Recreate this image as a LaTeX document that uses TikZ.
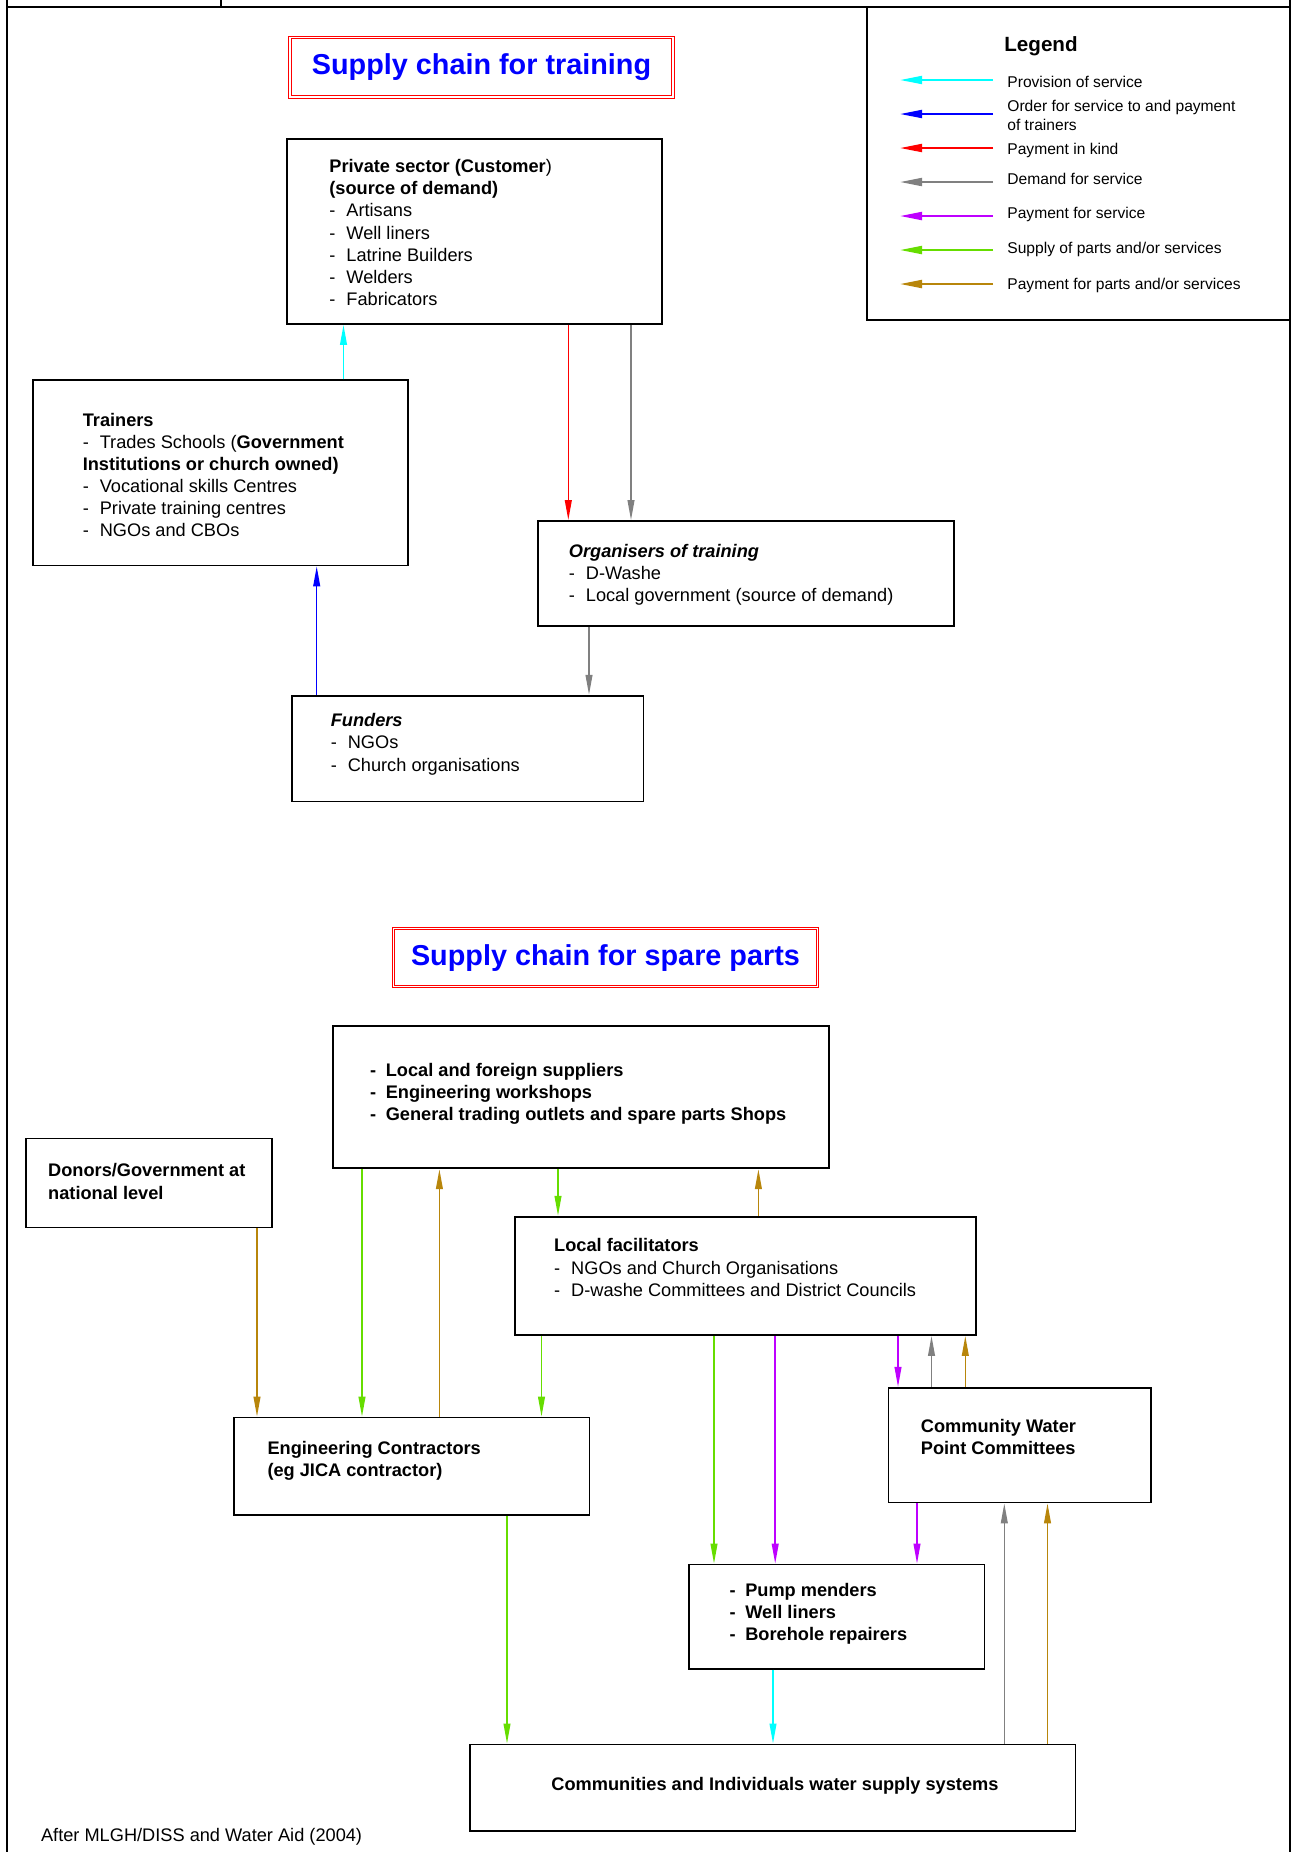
\documentclass[tikz,border=0pt]{standalone}
\usepackage{fontspec}
\setmainfont{Liberation Sans}
\usetikzlibrary{arrows.meta,fit}

\definecolor{provcyan}{RGB}{0,255,255}
\definecolor{orderblue}{RGB}{0,0,255}
\definecolor{kindred}{RGB}{255,0,0}
\definecolor{demandgray}{RGB}{128,128,128}
\definecolor{paypurple}{RGB}{190,0,255}
\definecolor{partsgreen}{RGB}{102,221,0}
\definecolor{partsgold}{RGB}{184,134,11}
\definecolor{titleblue}{RGB}{0,0,255}

% list bullets used inside the boxes
\newcommand{\dashitem}{\makebox[8.5pt][l]{-}}
\newcommand{\bdashitem}{\makebox[7.8pt][l]{\textbf{-}}}

\begin{document}
\begin{tikzpicture}[x=0.5pt,y=-0.5pt,
  box/.style={draw=black, line width=0.9pt, inner sep=0pt},
  titlebox/.style={draw=red, double=white, double distance=0.6pt, line width=0.6pt, inner sep=0pt},
  titletext/.style={inner sep=0pt, text=titleblue, font=\fontsize{14.4}{17}\selectfont\bfseries},
  body/.style={anchor=north west, inner sep=0pt, align=left, font=\fontsize{9.1}{11.05}\selectfont},
  line1/.style={anchor=base west, inner sep=0pt, font=\fontsize{9.1}{11.05}\selectfont},
  legtext/.style={anchor=base west, inner sep=0pt, font=\fontsize{7.8}{9.5}\selectfont},
  flow/.style={line width=0.75pt, -{Triangle[length=10pt,width=3.4pt]}},
  legflow/.style={line width=1pt, -{Triangle[length=11pt,width=4pt]}},
  frameline/.style={line width=1.1pt, draw=black},
]
\useasboundingbox (0,0) rectangle (1296,1852);

% page frame
\draw[frameline] (7,0) -- (7,1852);
\draw[frameline] (1290,0) -- (1290,1852);
\draw[frameline] (7,7) -- (1290,7);
\draw[frameline] (221,0) -- (221,7);

% ---------- legend ----------
\node[box, line width=1.1pt, fit={(867,7) (1290,320)}] (legend) {};
\node[anchor=base west, inner sep=0pt, font=\fontsize{10.3}{12}\selectfont\bfseries] (legtitle) at (1004,51.6) {Legend};
\draw[legflow, provcyan]   (993,80)  -- (900,80);
\draw[legflow, orderblue]  (993,114) -- (900,114);
\draw[legflow, kindred]    (993,148) -- (900,148);
\draw[legflow, demandgray] (993,182) -- (900,182);
\draw[legflow, paypurple]  (993,216) -- (900,216);
\draw[legflow, partsgreen] (993,250) -- (900,250);
\draw[legflow, partsgold]  (993,284) -- (900,284);
\node[legtext] (lg1) at (1007,87.3) {Provision of service};
\node[anchor=north west, inner sep=0pt, align=left, font=\fontsize{7.8}{9.5}\selectfont] (lg2) at (1007,99.3) {Order for service to and payment\\of trainers};
\node[legtext] (lg3) at (1007,154.8) {Payment in kind};
\node[legtext] (lg4) at (1007,184.9) {Demand for service};
\node[legtext] (lg5) at (1007,218.6) {Payment for service};
\node[legtext] (lg6) at (1007,253.6) {Supply of parts and/or services};
\node[legtext] (lg7) at (1007,289.6) {Payment for parts and/or services};

% ---------- supply chain for training ----------
\node[titlebox, fit={(290,37.5) (673,97)}] (title1) {};
\node[titletext] (title1text) at (title1.center) {Supply chain for training};

\node[box, fit={(287.3,139) (661.7,324)}] (private) {};
\node[body] (privatetext) at (329,159.2) {\textbf{Private sector (Customer})\\\textbf{(source of demand)}\\\dashitem Artisans\\\dashitem Well liners\\\dashitem Latrine Builders\\\dashitem Welders\\\dashitem Fabricators};

\node[box, fit={(33.3,380.2) (408,565.5)}] (trainers) {};
\node[body] (trainerstext) at (82.4,412.6) {\textbf{Trainers}\\\dashitem Trades Schools (\textbf{Government}\\\textbf{Institutions or church owned)}\\\dashitem Vocational skills Centres\\\dashitem Private training centres\\\dashitem NGOs and CBOs};

\node[box, fit={(538,521) (954,626)}] (organisers) {};
\node[body] (organiserstext) at (568.5,543.6) {\textbf{\textit{Organisers of training}}\\\dashitem D-Washe\\\dashitem Local government (source of demand)};

\node[box, fit={(291.7,695.7) (643.5,801.5)}] (funders) {};
\node[body] (funderstext) at (330.4,713.3) {\textbf{\textit{Funders}}\\\dashitem NGOs\\\dashitem Church organisations};

\draw[flow, provcyan]   (trainers.north -| 343.5,0)  -- (private.south -| 343.5,0);
\draw[flow, kindred]    (private.south -| 568.3,0)   -- (organisers.north -| 568.3,0);
\draw[flow, demandgray] (private.south -| 631,0)     -- (organisers.north -| 631,0);
\draw[flow, demandgray] (organisers.south -| 589,0)  -- (funders.north -| 589,0);
\draw[flow, orderblue]  (funders.north -| 316.7,0)   -- (trainers.south -| 316.7,0);

% ---------- supply chain for spare parts ----------
\node[titlebox, fit={(393.4,928.6) (817.5,986.5)}] (title2) {};
\node[titletext] (title2text) at (title2.center) {Supply chain for spare parts};

\node[box, fit={(333,1026) (828.7,1168.3)}] (suppliers) {};
\node[body, font=\fontsize{9.1}{11.05}\selectfont\bfseries] (supplierstext) at (369.8,1063) {\bdashitem Local and foreign suppliers\\\bdashitem Engineering workshops\\\bdashitem General trading outlets and spare parts Shops};

\node[box, fit={(26,1138.5) (271.7,1227.4)}] (donors) {};
\node[body, font=\fontsize{9.1}{11.05}\selectfont\bfseries] (donorstext) at (47.8,1163.3) {Donors/Government at\\national level};

\node[box, fit={(514.8,1216.7) (976,1335)}] (localfac) {};
\node[body] (localfactext) at (553.8,1238.3) {\textbf{Local facilitators}\\\dashitem NGOs and Church Organisations\\\dashitem D-washe Committees and District Councils};

\node[box, fit={(234.3,1417.5) (589.4,1515)}] (eng) {};
\node[body, font=\fontsize{9.1}{11.05}\selectfont\bfseries] (engtext) at (267.1,1440.8) {Engineering Contractors\\(eg JICA contractor)};

\node[box, fit={(888.4,1387.8) (1151.2,1502.5)}] (cwp) {};
\node[body, font=\fontsize{9.1}{11.05}\selectfont\bfseries] (cwptext) at (920.5,1418.8) {Community Water\\Point Committees};

\node[box, fit={(689,1564.5) (984.5,1668.8)}] (pump) {};
\node[body, font=\fontsize{9.1}{11.05}\selectfont\bfseries] (pumptext) at (729.3,1582.7) {\bdashitem Pump menders\\\bdashitem Well liners\\\bdashitem Borehole repairers};

\node[box, fit={(470,1744.4) (1075.5,1831)}] (communities) {};
\node[line1, font=\fontsize{9.1}{11.05}\selectfont\bfseries] (communitiestext) at (551,1790) {Communities and Individuals water supply systems};

\draw[flow, partsgold]  (donors.south -| 257,0)       -- (eng.north -| 257,0);
\draw[flow, partsgreen] (suppliers.south -| 362,0)    -- (eng.north -| 362,0);
\draw[flow, partsgold]  (eng.north -| 439.4,0)        -- (suppliers.south -| 439.4,0);
\draw[flow, partsgreen] (suppliers.south -| 558,0)    -- (localfac.north -| 558,0);
\draw[flow, partsgold]  (localfac.north -| 758.4,0)   -- (suppliers.south -| 758.4,0);
\draw[flow, partsgreen] (localfac.south -| 541.5,0)   -- (eng.north -| 541.5,0);
\draw[flow, partsgreen] (localfac.south -| 714,0)     -- (pump.north -| 714,0);
\draw[flow, paypurple]  (localfac.south -| 775.2,0)   -- (pump.north -| 775.2,0);
\draw[flow, paypurple]  (localfac.south -| 898,0)     -- (cwp.north -| 898,0);
\draw[flow, demandgray] (cwp.north -| 931.5,0)        -- (localfac.south -| 931.5,0);
\draw[flow, partsgold]  (cwp.north -| 965.3,0)        -- (localfac.south -| 965.3,0);
\draw[flow, paypurple]  (cwp.south -| 917,0)          -- (pump.north -| 917,0);
\draw[flow, demandgray] (communities.north -| 1004.3,0) -- (cwp.south -| 1004.3,0);
\draw[flow, partsgold]  (communities.north -| 1047.5,0) -- (cwp.south -| 1047.5,0);
\draw[flow, provcyan]   (pump.south -| 773,0)         -- (communities.north -| 773,0);
\draw[flow, partsgreen] (eng.south -| 507,0)          -- (communities.north -| 507,0);

% source note
\node[line1] (source) at (40.7,1841.2) {After MLGH/DISS and Water Aid (2004)};
\end{tikzpicture}
\end{document}
